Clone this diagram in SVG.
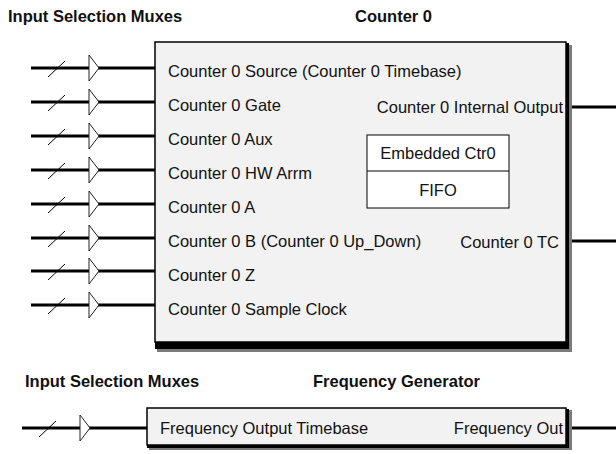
<svg xmlns="http://www.w3.org/2000/svg" xmlns:xlink="http://www.w3.org/1999/xlink" width="616" height="454" viewBox="0 0 616 454">
  <style>
    text { font-family: "Liberation Sans", Arial, sans-serif; fill: #111; }
    .title { font-size: 16.5px; font-weight: bold; }
    .lbl { font-size: 16.5px; }
    .mid { text-anchor: middle; }
    .end { text-anchor: end; }
    .wire { stroke: #000; stroke-width: 3; fill: none; }
    .face { fill: #f2f2f2; stroke: #000; stroke-width: 1.5; }
    .dark { fill: #000; }
    .shade { fill: #7a7a7a; }
  </style>
  <defs>
    <!-- bus slash and buffer triangle of one input selection mux, origin on the wire -->
    <g id="mux">
      <line x1="17" y1="9" x2="34" y2="-7" stroke="#000" stroke-width="1"/>
      <path d="M58,-13 L68,0 L58,13 Z" fill="#fff" stroke="#222" stroke-width="1"/>
    </g>
  </defs>

  <!-- section titles -->
  <g id="titles">
    <text class="title" x="8" y="22">Input Selection Muxes</text>
    <text class="title" x="355" y="22">Counter 0</text>
    <text class="title" x="25" y="387">Input Selection Muxes</text>
    <text class="title" x="313" y="387">Frequency Generator</text>
  </g>

  <!-- wires -->
  <g id="connectors">
    <path class="wire" d="M31,68 H155 M31,102 H155 M31,136 H155 M31,170 H155 M31,204 H155 M31,238 H155 M31,271 H155 M31,305 H155"/>
    <path class="wire" d="M569,107 H616 M569,241 H616"/>
    <path class="wire" d="M22,428 H147 M569,428 H616"/>
  </g>

  <!-- Counter 0 block -->
  <g id="counter0">
    <rect class="shade" x="157" y="45" width="415" height="307"/>
    <rect class="dark" x="155" y="43" width="414" height="306"/>
    <rect class="face" x="155" y="42" width="411" height="300"/>
    <text class="lbl" x="168" y="77">Counter 0 Source (Counter 0 Timebase)</text>
    <text class="lbl" x="168" y="111">Counter 0 Gate</text>
    <text class="lbl" x="168" y="145">Counter 0 Aux</text>
    <text class="lbl" x="168" y="179">Counter 0 HW Arrm</text>
    <text class="lbl" x="168" y="213">Counter 0 A</text>
    <text class="lbl" x="168" y="247">Counter 0 B (Counter 0 Up_Down)</text>
    <text class="lbl" x="168" y="281">Counter 0 Z</text>
    <text class="lbl" x="168" y="315">Counter 0 Sample Clock</text>
    <text class="lbl end" x="563" y="113">Counter 0 Internal Output</text>
    <text class="lbl end" x="559" y="248">Counter 0 TC</text>
  </g>

  <!-- embedded counter with FIFO -->
  <g id="embedded-ctr0">
    <rect x="367" y="135" width="142" height="73" fill="#fff" stroke="#000" stroke-width="1"/>
    <line x1="367" y1="171" x2="509" y2="171" stroke="#000" stroke-width="1"/>
    <text class="lbl mid" x="438" y="159">Embedded Ctr0</text>
    <text class="lbl mid" x="438" y="196">FIFO</text>
  </g>

  <!-- Frequency Generator block -->
  <g id="freq-gen">
    <rect class="shade" x="149" y="410" width="423" height="40"/>
    <rect class="dark" x="147" y="409" width="422" height="39"/>
    <rect class="face" x="147" y="408" width="419" height="37"/>
    <text class="lbl" x="160" y="434">Frequency Output Timebase</text>
    <text class="lbl end" x="563" y="434">Frequency Out</text>
  </g>

  <!-- input selection muxes -->
  <g id="muxes">
    <use id="mux-source" xlink:href="#mux" x="31" y="68"/>
    <use id="mux-gate" xlink:href="#mux" x="31" y="102"/>
    <use id="mux-aux" xlink:href="#mux" x="31" y="136"/>
    <use id="mux-hwarm" xlink:href="#mux" x="31" y="170"/>
    <use id="mux-a" xlink:href="#mux" x="31" y="204"/>
    <use id="mux-b" xlink:href="#mux" x="31" y="238"/>
    <use id="mux-z" xlink:href="#mux" x="31" y="271"/>
    <use id="mux-sample" xlink:href="#mux" x="31" y="305"/>
    <use id="mux-freq" xlink:href="#mux" x="22" y="428"/>
  </g>
</svg>
